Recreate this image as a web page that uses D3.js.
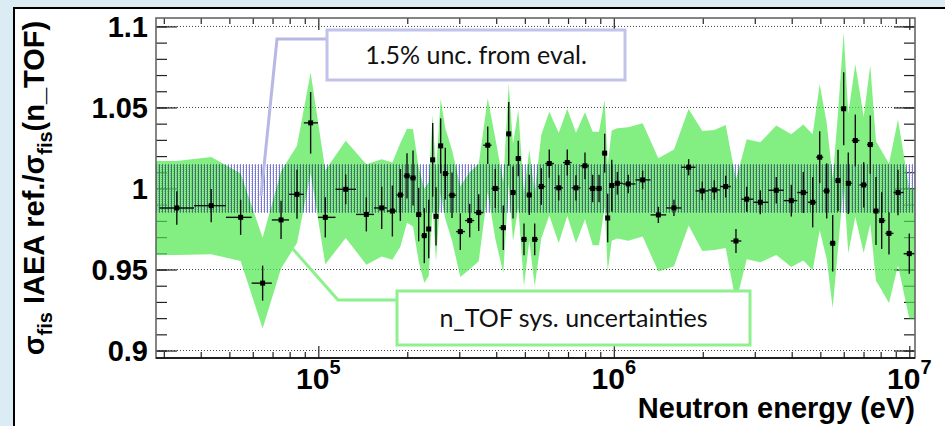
<!DOCTYPE html>
<html>
<head>
<meta charset="utf-8">
<script src="https://cdn.jsdelivr.net/npm/d3@7"></script>
<style>
    body { margin: 0; background: #fff; }
    svg { display: block; }
</style>
</head>
<body>
<div id="chart"></div>
<script>
// Neutron energy of each bin (eV)
const energies = [
    33200, 43400, 54600, 64800, 74800, 84700, 94200, 105600, 123800, 145400,
    163900, 178100, 189500, 199600, 209200, 218600, 228400, 236400, 243800, 250200,
    259500, 269000, 283500, 302400, 325300, 349000, 374400, 397200, 422700, 441000,
    456000, 475000, 496700, 517600, 539900, 568400, 604800, 651000, 695900, 744700,
    798900, 848500, 891300, 931500, 953500, 984000, 1028000, 1119000, 1252000, 1415000,
    1598000, 1792000, 1993000, 2189000, 2392000, 2591000, 2817000, 3132000, 3547000, 3988000,
    4378000, 4711000, 4975000, 5254000, 5506000, 5739000, 5998000, 6217000, 6566000, 7010000,
    7379000, 7714000, 8064000, 8536000, 9158000, 10000000
];
// IAEA ref. / n_TOF ratio
const ratios = [
    0.988, 0.9894, 0.9822, 0.9416, 0.9806, 0.9964, 1.0405, 0.9822, 0.9995, 0.984,
    0.988, 0.9861, 0.996, 1.0078, 1.0065, 0.9839, 0.9709, 0.975, 1.0177, 0.9828,
    1.0263, 1.0092, 0.9958, 0.9734, 0.9802, 0.9851, 1.0267, 1.0, 0.9758, 1.0337,
    0.9975, 1.0185, 0.9686, 0.996, 0.9686, 1.0012, 1.0154, 1.0004, 1.016, 1.0004,
    1.014, 1.0, 1.0, 1.0218, 0.9818, 1.0018, 1.0032, 1.0028, 1.0053, 0.9837,
    0.988, 1.0131, 0.9985, 0.9991, 1.0012, 0.9676, 0.9934, 0.9915, 0.9989, 0.9925,
    0.9975, 0.9915, 1.0193, 0.9985, 0.9662, 1.0049, 1.0492, 1.0032, 1.0296, 1.0022,
    1.0271, 0.9861, 0.9802, 0.9723, 0.9975, 0.9598
];
// statistical errors (vertical bars)
const statErr = [
    0.0103, 0.0103, 0.0108, 0.0108, 0.0118, 0.0151, 0.019, 0.0124, 0.0092, 0.0105,
    0.013, 0.0157, 0.016, 0.014, 0.017, 0.0165, 0.017, 0.018, 0.0227, 0.018,
    0.017, 0.016, 0.014, 0.0113, 0.0103, 0.0113, 0.0116, 0.012, 0.0137, 0.0196,
    0.016, 0.011, 0.0098, 0.0124, 0.0098, 0.0113, 0.0087, 0.0078, 0.008, 0.0078,
    0.0082, 0.0085, 0.0085, 0.012, 0.015, 0.016, 0.007, 0.0057, 0.0057, 0.005,
    0.005, 0.005, 0.0057, 0.006, 0.0067, 0.0074, 0.0077, 0.0074, 0.0082, 0.0098,
    0.0126, 0.0155, 0.016, 0.017, 0.0175, 0.019, 0.0225, 0.019, 0.016, 0.014,
    0.018, 0.021, 0.0175, 0.013, 0.014, 0.0124
];
// n_TOF systematic uncertainties (green band)
const sysErr = [
    0.029, 0.030, 0.027, 0.028, 0.030, 0.030, 0.031, 0.029, 0.030, 0.031,
    0.030, 0.030, 0.032, 0.029, 0.030, 0.029, 0.029, 0.029, 0.028, 0.028,
    0.029, 0.028, 0.028, 0.028, 0.030, 0.030, 0.029, 0.031, 0.028, 0.031,
    0.030, 0.030, 0.029, 0.028, 0.029, 0.032, 0.032, 0.034, 0.033, 0.034,
    0.033, 0.035, 0.035, 0.033, 0.033, 0.034, 0.034, 0.035, 0.035, 0.035,
    0.036, 0.036, 0.037, 0.037, 0.038, 0.038, 0.037, 0.037, 0.040, 0.041,
    0.042, 0.042, 0.045, 0.042, 0.040, 0.042, 0.047, 0.043, 0.047, 0.042,
    0.049, 0.043, 0.043, 0.043, 0.045, 0.040
];
const evalUnc = 0.015; // 1.5% from evaluation

const yTicks = [0.9, 0.95, 1, 1.05, 1.1];
const yTickLabels = ["0.9", "0.95", "1", "1.05", "1.1"];
const yMinorTicks = d3.range(90, 111).map(d => d / 100);
const xDecades = [5, 6, 7];
const xMinorTicks = [3e4, 4e4, 5e4, 6e4, 7e4, 8e4, 9e4]
    .concat(d3.range(2, 10).map(d => d * 1e5))
    .concat(d3.range(2, 10).map(d => d * 1e6));

const W = 945, H = 426;
const margin = {top: 18, right: 30, bottom: 68, left: 156};
const width = W - margin.left - margin.right;
const height = H - margin.top - margin.bottom;
const labelFont = "'Liberation Sans', Arial, Helvetica, sans-serif";
const boxFont = "Lato, 'Open Sans', sans-serif";

const svg = d3.select("#chart").append("svg")
    .attr("width", W)
    .attr("height", H);

// slide background + white panel
svg.append("rect").attr("width", W).attr("height", H).attr("fill", "#dcecf4");
svg.append("rect")
    .attr("x", 14).attr("y", 8)
    .attr("width", W + 20).attr("height", H + 20)
    .attr("fill", "#fff")
    .attr("stroke", "#000")
    .attr("stroke-width", 2);

const defs = svg.append("defs");
defs.append("clipPath").attr("id", "plot-clip")
    .append("rect").attr("width", width).attr("height", height);
// stipple for the evaluation band (multiplied over what is below)
const pat = defs.append("pattern")
    .attr("id", "eval-hatch")
    .attr("patternUnits", "userSpaceOnUse")
    .attr("width", 3).attr("height", 2);
pat.append("rect").attr("width", 1).attr("height", 2)
    .attr("fill", "#7878d2");
pat.append("rect").attr("x", 2).attr("y", 1).attr("width", 1).attr("height", 1)
    .attr("fill", "#c8c8ee");

const g = svg.append("g")
    .attr("transform", `translate(${margin.left},${margin.top})`);

const x = d3.scaleLog()
    .domain([2.823e4, 1.0455e7])
    .range([0, width]);
const y = d3.scaleLinear()
    .domain([0.8954, 1.1052])
    .range([height, 0]);

// dotted grid on the major y ticks
g.selectAll(".grid")
    .data(yTicks)
    .enter().append("line")
        .attr("class", "grid")
        .attr("x1", 0).attr("x2", width)
        .attr("y1", d => y(d)).attr("y2", d => y(d))
        .attr("stroke", "#444")
        .attr("stroke-width", 1)
        .attr("stroke-dasharray", "1,2");

// ticks (inward, like ROOT)
function tickAxis(axis, transform) {
    const a = g.append("g").attr("transform", transform).call(axis);
    a.select(".domain").remove();
    a.selectAll(".tick line").attr("stroke", "#222").attr("stroke-width", 1.2);
    return a;
}
tickAxis(d3.axisLeft(y).tickValues(yMinorTicks).tickSize(-11).tickFormat(""), "translate(0,0)");
tickAxis(d3.axisRight(y).tickValues(yMinorTicks).tickSize(-11).tickFormat(""), `translate(${width},0)`);
tickAxis(d3.axisRight(y).tickValues(yTicks).tickSize(-21).tickFormat(""), `translate(${width},0)`);
tickAxis(d3.axisBottom(x).tickValues(xMinorTicks).tickSize(-6).tickFormat(""), `translate(0,${height})`);
tickAxis(d3.axisTop(x).tickValues(xMinorTicks).tickSize(-6).tickFormat(""), "translate(0,0)");
tickAxis(d3.axisBottom(x).tickValues(xDecades.map(d => Math.pow(10, d))).tickSize(-12).tickFormat(""), `translate(0,${height})`);
tickAxis(d3.axisTop(x).tickValues(xDecades.map(d => Math.pow(10, d))).tickSize(-12).tickFormat(""), "translate(0,0)");

const yAxis = tickAxis(d3.axisLeft(y)
    .tickValues(yTicks)
    .tickSize(-21)
    .tickPadding(8)
    .tickFormat((d, i) => yTickLabels[i]), "translate(0,0)");
yAxis.selectAll("text")
    .attr("dy", "0.36em")
    .style("font-family", labelFont)
    .style("font-weight", "bold")
    .style("font-size", "29px")
    .attr("fill", "#000");

// data points
const points = energies.map((e, i) => {
    const l = Math.log10(e);
    const lPrev = i > 0 ? Math.log10(energies[i - 1]) : null;
    const lNext = i < energies.length - 1 ? Math.log10(energies[i + 1]) : null;
    const lo = lPrev !== null ? (l + lPrev) / 2 : l - (lNext - l) / 2;
    const hi = lNext !== null ? (l + lNext) / 2 : l + (l - lPrev) / 2;
    return {e: e, v: ratios[i], err: statErr[i], sys: sysErr[i], lo: Math.pow(10, lo), hi: Math.pow(10, hi)};
});

const plot = g.append("g").attr("clip-path", "url(#plot-clip)");

// green systematic band, carried to the frame edges
const bandData = [{e: x.domain()[0], v: points[0].v, sys: points[0].sys}]
    .concat(points)
    .concat([{e: x.domain()[1], v: points[points.length - 1].v, sys: points[points.length - 1].sys}]);
plot.append("path")
    .datum(bandData)
    .attr("d", d3.area()
        .x(d => x(d.e))
        .y0(d => y(d.v - d.sys))
        .y1(d => y(d.v + d.sys)))
    .attr("fill", "#4fe84f")
    .attr("fill-opacity", 0.7);

// 1.5% evaluation band
plot.append("rect")
    .attr("x", 0).attr("width", width)
    .attr("y", y(1 + evalUnc))
    .attr("height", y(1 - evalUnc) - y(1 + evalUnc))
    .attr("fill", "url(#eval-hatch)")
    .style("mix-blend-mode", "multiply");

// error bars
const bars = plot.selectAll(".pt")
    .data(points)
    .enter().append("g").attr("class", "pt");
bars.append("line")
    .attr("x1", d => x(d.e)).attr("x2", d => x(d.e))
    .attr("y1", d => y(d.v - d.err)).attr("y2", d => y(d.v + d.err))
    .attr("stroke", "#111").attr("stroke-width", 1.4);
bars.append("line")
    .attr("x1", d => x(d.lo)).attr("x2", d => x(d.hi))
    .attr("y1", d => y(d.v)).attr("y2", d => y(d.v))
    .attr("stroke", "#111").attr("stroke-width", 1.4);
bars.append("rect")
    .attr("x", d => x(d.e) - 2.5).attr("y", d => y(d.v) - 2.5)
    .attr("width", 5).attr("height", 5)
    .attr("fill", "#000");

// frame
g.append("rect")
    .attr("width", width).attr("height", height)
    .attr("fill", "none")
    .attr("stroke", "#666").attr("stroke-width", 1.6);
g.append("line")
    .attr("x1", 0).attr("x2", width)
    .attr("y1", height).attr("y2", height)
    .attr("stroke", "#000").attr("stroke-width", 1.6);

// x tick labels 10^n
const xLab = g.selectAll(".xlab")
    .data(xDecades)
    .enter().append("text")
        .attr("class", "xlab")
        .attr("x", d => x(Math.pow(10, d)))
        .attr("y", height + 31)
        .attr("text-anchor", "middle")
        .style("font-family", labelFont)
        .style("font-weight", "bold")
        .style("font-size", "30px");
xLab.append("tspan").text("10");
xLab.append("tspan")
    .attr("dy", -15)
    .style("font-size", "20px")
    .text(d => d);

// axis titles
g.append("text")
    .attr("x", width)
    .attr("y", height + 60)
    .attr("text-anchor", "end")
    .style("font-family", labelFont)
    .style("font-weight", "bold")
    .style("font-size", "29px")
    .text("Neutron energy (eV)");

const yTitle = svg.append("text")
    .attr("transform", `translate(44,${margin.top + height / 2}) rotate(-90)`)
    .attr("text-anchor", "middle")
    .style("font-family", labelFont)
    .style("font-weight", "bold")
    .style("font-size", "29px");
yTitle.append("tspan").text("σ");
yTitle.append("tspan").attr("dy", 8).style("font-size", "20px").text("fis");
yTitle.append("tspan").attr("dy", -8).text(" IAEA ref./σ");
yTitle.append("tspan").attr("dy", 8).style("font-size", "20px").text("fis");
yTitle.append("tspan").attr("dy", -8).text("(n_TOF)");

// callouts
function callout(pts, box, text, color, lineColor) {
    svg.append("path")
        .attr("d", d3.line()(pts))
        .attr("fill", "none")
        .attr("stroke", lineColor)
        .attr("stroke-width", 3);
    svg.append("rect")
        .attr("x", box[0]).attr("y", box[1])
        .attr("width", box[2]).attr("height", box[3])
        .attr("fill", "#fff")
        .attr("stroke", color)
        .attr("stroke-width", 3);
    svg.append("text")
        .attr("x", box[0] + box[2] / 2)
        .attr("y", box[1] + box[3] / 2 + 9)
        .attr("text-anchor", "middle")
        .style("font-family", boxFont)
        .style("font-size", "25px")
        .attr("fill", "#111")
        .text(text);
}
callout([[327, 39], [277, 39], [261, 196]], [327, 30, 298, 50], "1.5% unc. from eval.", "#c2c2ec", "#b8b8e6");
callout([[397, 300], [338, 300], [292, 248]], [397, 291, 353, 54], "n_TOF sys. uncertainties", "#90f090", "#8cf08c");
</script>
</body>
</html>
